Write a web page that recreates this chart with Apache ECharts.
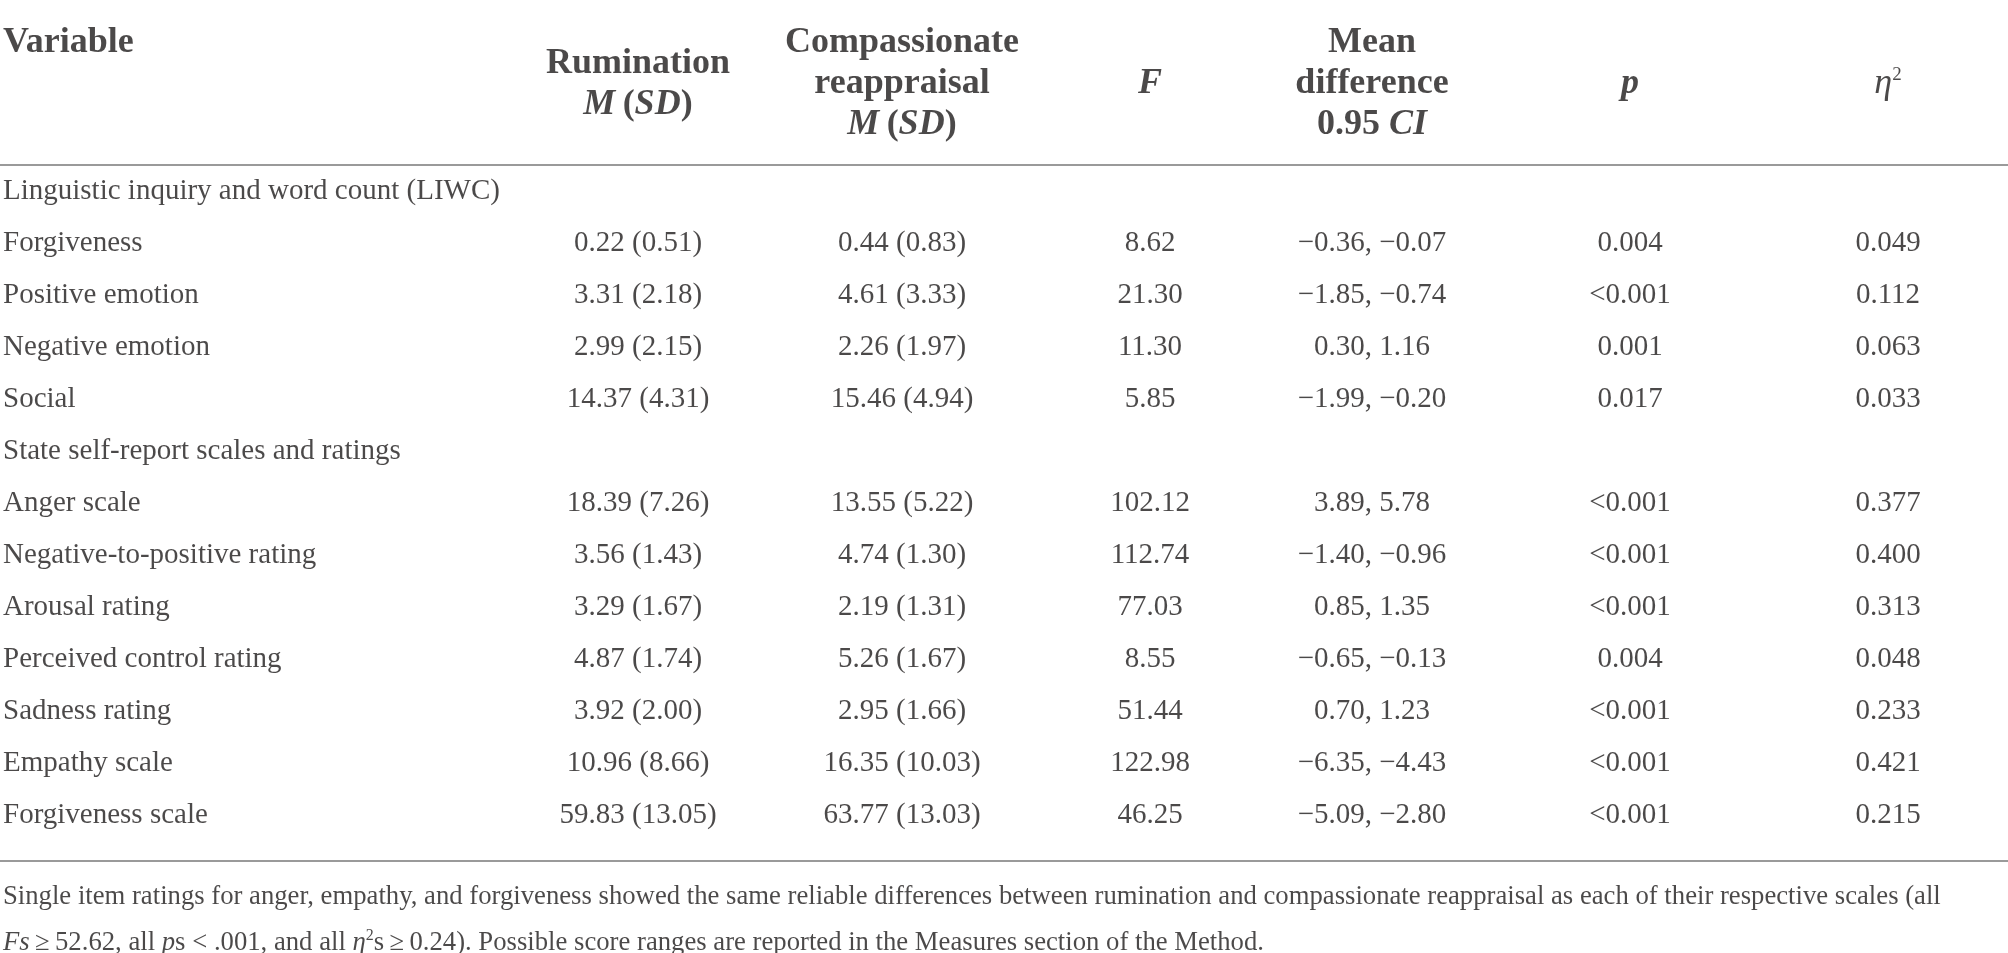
<!DOCTYPE html>
<html>
<head>
<meta charset="utf-8">
<script src="https://cdn.jsdelivr.net/npm/echarts@6/dist/echarts.min.js"></script>
<style>
  html, body { margin: 0; padding: 0; background: #fff; }
  #chart { width: 2008px; height: 953px; }
</style>
</head>
<body>
<div id="chart"></div>
<script>
// table data, one entry per body row (section titles have nulls)
const rowLabels = [
  'Linguistic inquiry and word count (LIWC)', 'Forgiveness', 'Positive emotion',
  'Negative emotion', 'Social', 'State self-report scales and ratings', 'Anger scale',
  'Negative-to-positive rating', 'Arousal rating', 'Perceived control rating',
  'Sadness rating', 'Empathy scale', 'Forgiveness scale'
];
const rumM   = [null, 0.22, 3.31, 2.99, 14.37, null, 18.39, 3.56, 3.29, 4.87, 3.92, 10.96, 59.83];
const rumSD  = [null, 0.51, 2.18, 2.15, 4.31, null, 7.26, 1.43, 1.67, 1.74, 2.00, 8.66, 13.05];
const compM  = [null, 0.44, 4.61, 2.26, 15.46, null, 13.55, 4.74, 2.19, 5.26, 2.95, 16.35, 63.77];
const compSD = [null, 0.83, 3.33, 1.97, 4.94, null, 5.22, 1.30, 1.31, 1.67, 1.66, 10.03, 13.03];
const fValues = [null, 8.62, 21.30, 11.30, 5.85, null, 102.12, 112.74, 77.03, 8.55, 51.44, 122.98, 46.25];
const ciLow  = [null, -0.36, -1.85, 0.30, -1.99, null, 3.89, -1.40, 0.85, -0.65, 0.70, -6.35, -5.09];
const ciHigh = [null, -0.07, -0.74, 1.16, -0.20, null, 5.78, -0.96, 1.35, -0.13, 1.23, -4.43, -2.80];
const pValues = [null, '0.004', '<0.001', '0.001', '0.017', null, '<0.001', '<0.001', '<0.001', '0.004', '<0.001', '<0.001', '<0.001'];
const etaSq  = [null, 0.049, 0.112, 0.063, 0.033, null, 0.377, 0.400, 0.313, 0.048, 0.233, 0.421, 0.215];

const headers = [
  '{b|Variable}',
  '{b|Rumination}\n{bi|M} {b|(}{bi|SD}{b|)}',
  '{b|Compassionate}\n{b|reappraisal}\n{bi|M} {b|(}{bi|SD}{b|)}',
  '{bi|F}',
  '{b|Mean}\n{b|difference}\n{b|0.95 }{bi|CI}',
  '{bi|p}',
  '{hi|\u03b7}{hsup|2}'
];
const footnote = [
  'Single item ratings for anger, empathy, and forgiveness showed the same reliable differences between rumination and compassionate reappraisal as each of their respective scales (all',
  '{i|F}{i|s}\u2009\u2265\u200952.62, all {i|p}s < .001, and all {i|\u03b7}{sup|2}s\u2009\u2265\u20090.24). Possible score ranges are reported in the Measures section of the Method.'
];

// layout (pixels across, row units down)
const W = 2008, H = 953;
const rowTop = 191, rowStep = 52;
const colX = [3, 638, 902, 1150, 1372, 1630, 1888];
const toRow = px => (px - rowTop) / rowStep;
const headerRow = toRow(84), variableRow = toRow(43);
const ruleRows = [toRow(165), toRow(861)];
const footRows = [toRow(897), toRow(943)];

const INK = '#1e1b1c';
const FONT = '"Liberation Serif", "DejaVu Serif", serif';
const SIZE = 29, HSIZE = 36, FSIZE = 26.7;
const rich = {
  b:    { fontWeight: 'bold', fontSize: HSIZE, lineHeight: 41, color: INK, fontFamily: FONT },
  bi:   { fontWeight: 'bold', fontStyle: 'italic', fontSize: HSIZE, lineHeight: 41, color: INK, fontFamily: FONT },
  hi:   { fontStyle: 'italic', fontSize: HSIZE, lineHeight: 36, color: INK, fontFamily: FONT },
  hsup: { fontSize: 19, lineHeight: 36, verticalAlign: 'top', color: INK, fontFamily: FONT }
};

const fmt = (v, d) => (v < 0 ? '\u2212' : '') + Math.abs(v).toFixed(d);

const bodyCols = [
  i => rowLabels[i],
  i => rumM[i] == null ? null : fmt(rumM[i], 2) + ' (' + fmt(rumSD[i], 2) + ')',
  i => compM[i] == null ? null : fmt(compM[i], 2) + ' (' + fmt(compSD[i], 2) + ')',
  i => fValues[i] == null ? null : fmt(fValues[i], 2),
  i => ciLow[i] == null ? null : fmt(ciLow[i], 2) + ', ' + fmt(ciHigh[i], 2),
  i => pValues[i],
  i => etaSq[i] == null ? null : fmt(etaSq[i], 3)
];

const series = bodyCols.map((getText, c) => {
  const data = [];
  data.push({ value: [colX[c], c === 0 ? variableRow : headerRow, headers[c]] });
  rowLabels.forEach((_, i) => {
    const t = getText(i);
    if (t != null) data.push({ value: [colX[c], i, t] });
  });
  return {
    type: 'scatter',
    symbolSize: 0,
    silent: true,
    data: data,
    label: {
      show: true,
      position: c === 0 ? 'right' : 'inside',
      distance: 0,
      align: c === 0 ? 'left' : 'center',
      verticalAlign: 'middle',
      formatter: p => p.value[2],
      color: INK,
      fontFamily: FONT,
      fontSize: SIZE,
      lineHeight: 41,
      rich: rich
    }
  };
});

// footnote and rules
series.push({
  type: 'scatter',
  symbolSize: 0,
  silent: true,
  data: footnote.map((t, i) => ({ value: [colX[0], footRows[i], t] })),
  label: {
    show: true,
    position: 'right',
    distance: 0,
    align: 'left',
    verticalAlign: 'middle',
    formatter: p => p.value[2],
    color: INK,
    fontFamily: FONT,
    fontSize: FSIZE,
    rich: {
      i:   { fontStyle: 'italic', fontSize: FSIZE, lineHeight: 30, color: INK, fontFamily: FONT },
      sup: { fontSize: 16, lineHeight: 30, verticalAlign: 'top', color: INK, fontFamily: FONT }
    }
  },
  markLine: {
    silent: true,
    symbol: 'none',
    label: { show: false },
    lineStyle: { color: '#9a9a9a', width: 2, type: 'solid' },
    data: ruleRows.map(r => ({ yAxis: r }))
  }
});

const chart = echarts.init(document.getElementById('chart'), null, { renderer: 'canvas' });
chart.setOption({
  animation: false,
  backgroundColor: '#fff',
  grid: { left: 0, right: 0, top: 0, bottom: 0 },
  xAxis: { type: 'value', min: 0, max: W, show: false },
  yAxis: { type: 'value', inverse: true, min: toRow(0), max: toRow(H), show: false },
  series: series
});
</script>
</body>
</html>
